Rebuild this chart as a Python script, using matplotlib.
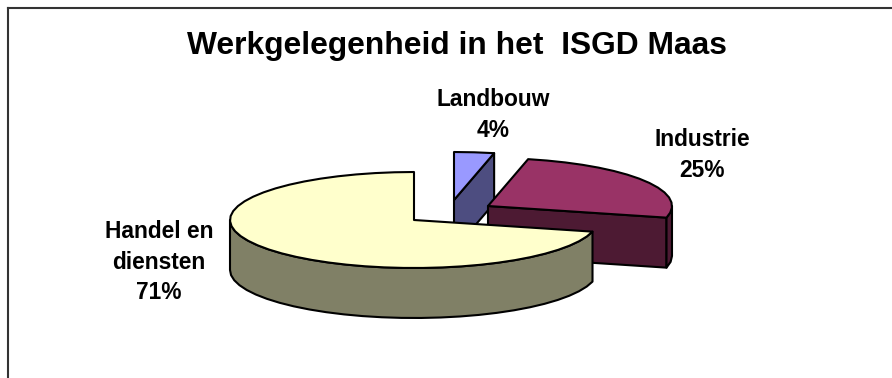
# -*- coding: utf-8 -*-
import numpy as np
import matplotlib
matplotlib.use("Agg")
import matplotlib.pyplot as plt
from matplotlib.patches import Polygon

plt.rcParams['font.family'] = ['Liberation Sans', 'DejaVu Sans']

title = "Werkgelegenheid in het  ISGD Maas"
categories = ["Landbouw", "Industrie", "Handel en\ndiensten"]
# labels round them to 4 / 25 / 71
values = [3.5, 25.4, 71.1]
top_colors = ["#9999FF", "#993366", "#FFFFCC"]
side_colors = ["#4D4D80", "#4D1A33", "#808066"]

# exploded centres of the slices and label positions, in pixels
centers = [(454, 200), (488, 206), (414, 220)]
label_pos = [(493, 115), (702, 155), (159, 262)]

rx, ry = 184, 48
depth = 50


def arc(cx, cy, a0, a1):
    # points on the rim, a coarse step gives the rough outline of the original
    n = max(2, int(abs(a1 - a0) / 6) + 1)
    t = np.radians(np.linspace(a0, a1, n))
    return np.column_stack([cx + rx * np.cos(t), cy - ry * np.sin(t)])


def draw_slice(ax, cx, cy, start, end, top, side):
    # slice runs clockwise from start to end
    edge = dict(edgecolor="black", linewidth=1.5, joinstyle="round")
    drop = np.array([0, depth])
    centre = np.array([[cx, cy]])

    if np.cos(np.radians(end)) > 0.01:
        p = arc(cx, cy, end, end)[:1]
        wall = np.vstack([centre, p, p + drop, centre + drop])
        ax.add_patch(Polygon(wall, facecolor=side, **edge))

    # part of the rim on the viewer's side (sin < 0)
    for k in [0, -1]:
        lo = max(end, -180 + 360 * k)
        hi = min(start, 0 + 360 * k)
        if hi > lo:
            p = arc(cx, cy, hi, lo)
            ax.add_patch(Polygon(np.vstack([p, (p + drop)[::-1]]), facecolor=side, **edge))

    pts = np.vstack([centre, arc(cx, cy, start, end)])
    ax.add_patch(Polygon(pts, facecolor=top, **edge))


fig = plt.figure(figsize=(8.92, 3.78), dpi=100)
ax = fig.add_axes([7.5 / 892, 0, 1 - 7.5 / 892, 1 - 7.5 / 378])
ax.set_xlim(7.5, 892)
ax.set_ylim(378, 7.5)
ax.set_xticks([])
ax.set_yticks([])
ax.spines['right'].set_visible(False)
ax.spines['bottom'].set_visible(False)
for s in ['left', 'top']:
    ax.spines[s].set_color("#333333")
    ax.spines[s].set_linewidth(1.5)

angle = 90.0
for i in range(len(values)):
    sweep = values[i] / sum(values) * 360
    draw_slice(ax, centers[i][0], centers[i][1], angle, angle - sweep,
               top_colors[i], side_colors[i])
    angle -= sweep
    ax.text(label_pos[i][0], label_pos[i][1],
            "%s\n%d%%" % (categories[i], round(values[i])),
            ha="center", va="center", fontsize=16.4, fontweight="bold",
            linespacing=1.42, color="black")

ax.text(457, 46, title, ha="center", va="center", fontsize=22.9,
        fontweight="bold", color="black")

fig.savefig("out.png", dpi=100)
